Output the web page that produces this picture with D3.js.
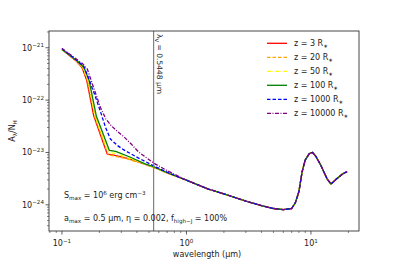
<!DOCTYPE html>
<html>
<head>
<meta charset="utf-8">
<script src="https://cdn.jsdelivr.net/npm/d3@7"></script>
<style>
  body { margin: 0; background: #fff; }
  svg { font-family: "DejaVu Sans", sans-serif; }
</style>
</head>
<body>
<div id="chart"></div>
<script>
// values (wavelength in micron, A/N_H)
const seriesNames = ['3', '20', '50', '100', '1000', '10000'];
const seriesColors = ['#ff0000', '#ffa500', '#ffff00', '#008000', '#0000ff', '#800080'];
const seriesDash = ['', '3.5,2', '4,1.5,1,1.5', '', '3.5,2', '4,1.5,1,1.5'];

const lamRed = [0.1, 0.13, 0.145, 0.158, 0.18, 0.204, 0.231, 0.26, 0.324, 0.41, 0.55, 0.7];
const aRed = [9.3e-22, 5.6e-22, 4.2e-22, 2.4e-22, 5.0e-23, 2.15e-23, 9.3e-24, 8.9e-24, 7.9e-24, 6.6e-24, 5.2e-24, 4.07e-24];
const lamOrange = [0.1, 0.131, 0.146, 0.16, 0.183, 0.207, 0.235, 0.262, 0.33, 0.42, 0.55, 0.7];
const aOrange = [9.3e-22, 5.6e-22, 4.2e-22, 2.4e-22, 4.9e-23, 2.15e-23, 9.0e-24, 8.6e-24, 7.6e-24, 6.4e-24, 5.15e-24, 4.05e-24];
const lamYellow = [0.1, 0.132, 0.148, 0.162, 0.186, 0.21, 0.238, 0.266, 0.34, 0.44, 0.55, 0.7];
const aYellow = [9.3e-22, 5.6e-22, 4.2e-22, 2.4e-22, 4.9e-23, 2.15e-23, 1.0e-23, 9.6e-24, 7.9e-24, 6.3e-24, 5.2e-24, 4.07e-24];
const lamGreen = [0.1, 0.133, 0.15, 0.165, 0.189, 0.215, 0.24, 0.27, 0.355, 0.47, 0.55, 0.7];
const aGreen = [9.3e-22, 5.6e-22, 4.2e-22, 2.4e-22, 4.9e-23, 2.2e-23, 1.1e-23, 1.05e-23, 8.1e-24, 6.0e-24, 5.3e-24, 4.1e-24];
const lamBlue = [0.1, 0.133, 0.15, 0.164, 0.186, 0.204, 0.224, 0.245, 0.28, 0.314, 0.413, 0.55, 0.7];
const aBlue = [9.7e-22, 5.6e-22, 4.4e-22, 2.6e-22, 1.15e-22, 6.0e-23, 3.0e-23, 1.8e-23, 1.35e-23, 1.12e-23, 7.8e-24, 5.5e-24, 4.2e-24];
const lamPurple = [0.1, 0.128, 0.146, 0.16, 0.18, 0.204, 0.225, 0.25, 0.28, 0.314, 0.36, 0.413, 0.55, 0.7];
const aPurple = [9.7e-22, 6.3e-22, 5.0e-22, 3.9e-22, 1.7e-22, 7.2e-23, 4.4e-23, 3.2e-23, 2.5e-23, 2.0e-23, 1.45e-23, 1.02e-23, 6.2e-24, 4.5e-24];

// shared long-wavelength part
const lamTail = [1.0, 1.5, 2, 3, 4, 5, 6, 7, 7.5, 8, 8.5, 9, 9.7, 10.3, 11, 12, 13.5, 14.5, 16, 18, 19.5];
const aTail = [2.95e-24, 2.0e-24, 1.62e-24, 1.18e-24, 9.7e-25, 8.5e-25, 8.1e-25, 8.5e-25, 1.1e-24, 1.78e-24, 4.3e-24, 7.2e-24, 9.5e-24, 1.0e-23, 8.3e-24, 5.7e-24, 3.1e-24, 2.5e-24, 3.1e-24, 3.9e-24, 4.3e-24];

const shortLam = [lamRed, lamOrange, lamYellow, lamGreen, lamBlue, lamPurple];
const shortA = [aRed, aOrange, aYellow, aGreen, aBlue, aPurple];

const xTicks = [0.1, 1, 10];
const xTickExp = ['\u22121', '0', '1'];
const yTicks = [1e-21, 1e-22, 1e-23, 1e-24];
const yTickExp = ['\u221221', '\u221222', '\u221223', '\u221224'];
const lambdaV = 0.5448;

const W = 399, H = 266;
const margin = {top: 31, right: 40, bottom: 35, left: 49};
const width = W - margin.left - margin.right,
    height = H - margin.top - margin.bottom;

const svg = d3.select("#chart").append("svg")
    .attr("width", W).attr("height", H);
const g = svg.append("g").attr("transform", `translate(${margin.left},${margin.top})`);

const x = d3.scaleLog().domain([Math.pow(10, -1.104), Math.pow(10, 1.386)]).range([0, width]);
const y = d3.scaleLog().domain([Math.pow(10, -24.5), Math.pow(10, -20.68)]).range([height, 0]);

// minor ticks
function minors(lo, hi) {
    const out = [];
    for (let e = Math.floor(Math.log10(lo)); e <= Math.ceil(Math.log10(hi)); e++) {
        for (let k = 2; k <= 9; k++) {
            const v = k * Math.pow(10, e);
            if (v >= lo && v <= hi) out.push(v);
        }
    }
    return out;
}
const axisColor = "#333";

g.selectAll(".xminor").data(minors(...x.domain())).join("line")
    .attr("x1", d => x(d)).attr("x2", d => x(d))
    .attr("y1", height).attr("y2", height + 2)
    .attr("stroke", axisColor).attr("stroke-width", 0.6);
g.selectAll(".xmajor").data(xTicks).join("line")
    .attr("x1", d => x(d)).attr("x2", d => x(d))
    .attr("y1", height).attr("y2", height + 3.5)
    .attr("stroke", axisColor).attr("stroke-width", 0.8);
g.selectAll(".yminor").data(minors(...y.domain())).join("line")
    .attr("y1", d => y(d)).attr("y2", d => y(d))
    .attr("x1", 0).attr("x2", -2)
    .attr("stroke", axisColor).attr("stroke-width", 0.6);
g.selectAll(".ymajor").data(yTicks).join("line")
    .attr("y1", d => y(d)).attr("y2", d => y(d))
    .attr("x1", 0).attr("x2", -3.5)
    .attr("stroke", axisColor).attr("stroke-width", 0.8);

// tick labels with superscripts
const xl = g.selectAll(".xlab").data(xTicks).join("text")
    .attr("x", d => x(d)).attr("y", height + 15)
    .attr("text-anchor", "middle").attr("font-size", 8).attr("fill", "#222");
xl.append("tspan").text("10");
xl.append("tspan").attr("dy", -3.5).attr("font-size", 5.6).text((d, i) => xTickExp[i]);

const yl = g.selectAll(".ylab").data(yTicks).join("text")
    .attr("x", -5).attr("y", d => y(d) + 3)
    .attr("text-anchor", "end").attr("font-size", 8).attr("fill", "#222");
yl.append("tspan").text("10");
yl.append("tspan").attr("dy", -3.5).attr("font-size", 5.6).text((d, i) => yTickExp[i]);

// curves
const line = d3.line().x(d => x(d[0])).y(d => y(d[1]));
const curves = seriesNames.map((n, i) => {
    const pts = shortLam[i].map((l, j) => [l, shortA[i][j]]);
    return pts.concat(lamTail.map((l, j) => [l, aTail[j]]));
});

// clip
svg.append("clipPath").attr("id", "clip").append("rect")
    .attr("width", width).attr("height", height);
const plot = g.append("g").attr("clip-path", "url(#clip)");

plot.selectAll(".curve").data(curves).join("path")
    .attr("d", line)
    .attr("fill", "none")
    .attr("stroke", (d, i) => seriesColors[i])
    .attr("stroke-width", 1.3)
    .attr("stroke-linejoin", "round")
    .attr("stroke-dasharray", (d, i) => seriesDash[i]);

// lambda_V line
plot.append("line")
    .attr("x1", x(lambdaV)).attr("x2", x(lambdaV))
    .attr("y1", 0).attr("y2", height)
    .attr("stroke", "#808080").attr("stroke-width", 1.2);
const vt = g.append("text")
    .attr("transform", `translate(${x(lambdaV) + 3},${3}) rotate(90)`)
    .attr("font-size", 7.5).attr("fill", "#222");
vt.append("tspan").text("\u03bb");
vt.append("tspan").attr("dy", 2).attr("font-size", 5.5).text("V");
vt.append("tspan").attr("dy", -2).text(" = 0.5448 \u03bcm");

// frame
g.append("rect").attr("width", width).attr("height", height)
    .attr("fill", "none").attr("stroke", axisColor).attr("stroke-width", 0.9);

// legend
const leg = g.append("g").attr("transform", `translate(${218},${12.3})`);
seriesNames.forEach((n, i) => {
    const row = leg.append("g").attr("transform", `translate(0,${i * 14})`);
    row.append("line").attr("x1", 0).attr("x2", 20).attr("y1", 0).attr("y2", 0)
        .attr("stroke", seriesColors[i]).attr("stroke-width", 1.3)
        .attr("stroke-dasharray", seriesDash[i]);
    const t = row.append("text").attr("x", 27).attr("y", 3)
        .attr("font-size", 8).attr("fill", "#222");
    t.append("tspan").text(`z = ${n} R`);
    t.append("tspan").attr("dy", 1.5).attr("font-size", 5.6).text("\u2217");
});

// annotations
const a1 = g.append("text").attr("x", 15).attr("y", 167)
    .attr("font-size", 8).attr("fill", "#222");
a1.append("tspan").text("S");
a1.append("tspan").attr("dy", 2).attr("font-size", 5.6).text("max");
a1.append("tspan").attr("dy", -2).text(" = 10");
a1.append("tspan").attr("dy", -3.5).attr("font-size", 5.6).text("6");
a1.append("tspan").attr("dy", 3.5).text(" erg cm");
a1.append("tspan").attr("dy", -3.5).attr("font-size", 5.6).text("\u22123");

const a2 = g.append("text").attr("x", 15).attr("y", 190)
    .attr("font-size", 8).attr("fill", "#222");
a2.append("tspan").text("a");
a2.append("tspan").attr("dy", 2).attr("font-size", 5.6).text("max");
a2.append("tspan").attr("dy", -2).text(" = 0.5 \u03bcm, \u03b7 = 0.002, f");
a2.append("tspan").attr("dy", 2).attr("font-size", 5.6).text("high\u2212J");
a2.append("tspan").attr("dy", -2).text(" = 100%");

// axis titles
g.append("text").attr("x", 158).attr("y", height + 26)
    .attr("text-anchor", "middle").attr("font-size", 8).attr("fill", "#222")
    .text("wavelength (\u03bcm)");
const yt = svg.append("text")
    .attr("transform", `translate(${15},${131}) rotate(-90)`)
    .attr("text-anchor", "middle").attr("font-size", 8).attr("fill", "#222");
yt.append("tspan").text("A");
yt.append("tspan").attr("dy", 2).attr("font-size", 5.6).text("\u03bb");
yt.append("tspan").attr("dy", -2).text("/N");
yt.append("tspan").attr("dy", 2).attr("font-size", 5.6).text("H");
</script>
</body>
</html>
